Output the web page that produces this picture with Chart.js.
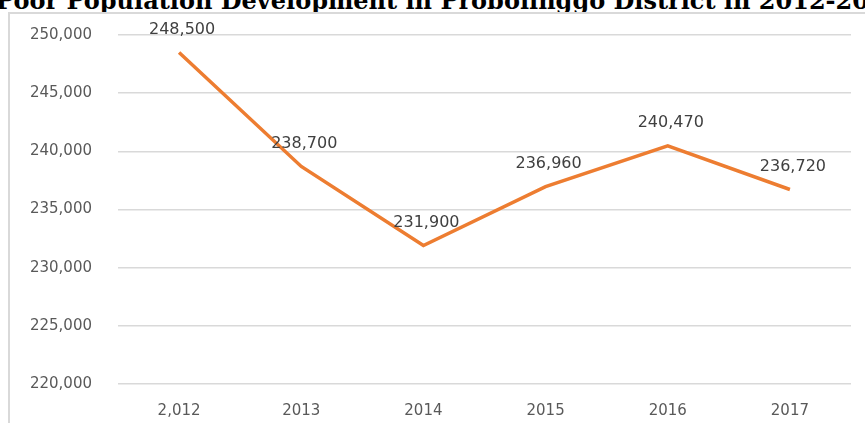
<!DOCTYPE html>
<html>
<head>
<meta charset="utf-8">
<script src="https://cdn.jsdelivr.net/npm/chart.js@4"></script>
<style>
  html, body { margin: 0; padding: 0; background: #fff; overflow: hidden; }
  #wrap { position: relative; width: 865px; height: 423px; overflow: hidden; }
  #title {
    position: absolute; left: -4px; top: -11px; white-space: nowrap;
    font: bold 24px "DejaVu Serif", serif; line-height: 1; color: #000;
  }
  #frame {
    position: absolute; left: 8px; top: 12px; width: 900px; height: 440px;
    border-left: 2px solid #d9d9d9; border-top: 2px solid #d9d9d9;
  }
  canvas { position: absolute; left: 0; top: 0; }
</style>
</head>
<body>
<div id="wrap">
  <div id="title">Poor Population Development in Probolinggo District in 2012-2017</div>
  <div id="frame"></div>
  <canvas id="myChart" width="865" height="423"></canvas>
</div>
<script>
'use strict';

let years = ['2,012', '2013', '2014', '2015', '2016', '2017'];
let poorPeople = [248500, 238700, 231900, 236960, 240470, 236720];
let yMin = 220000;
let yMax = 250000;
let yStep = 5000;

// writes the value above each point of the line
let valueLabels = {
    id: 'valueLabels',
    afterDatasetsDraw(chart) {
        let ctx = chart.ctx;
        let meta = chart.getDatasetMeta(0);
        ctx.save();
        ctx.font = '16px "DejaVu Sans", sans-serif';
        ctx.fillStyle = '#404040';
        ctx.textAlign = 'center';
        ctx.textBaseline = 'middle';
        meta.data.forEach(function (pt, i) {
            ctx.fillText(poorPeople[i].toLocaleString('en-US'), pt.x + 3, pt.y - 23);
        });
        ctx.restore();
    }
};

let ctx = document.getElementById('myChart').getContext('2d');
let chart = new Chart(ctx, {
    type: 'line',
    data: {
        labels: years,
        datasets: [{
            label: 'Poor population',
            data: poorPeople,
            borderColor: '#ed7d31',
            backgroundColor: '#ed7d31',
            borderWidth: 3.5,
            pointRadius: 0,
            tension: 0
        }]
    },
    options: {
        responsive: false,
        animation: false,
        layout: { padding: { top: 34, right: 14, left: 0, bottom: 0 } },
        plugins: {
            legend: { display: false },
            tooltip: { enabled: false }
        },
        scales: {
            x: {
                offset: true,
                grid: { display: false },
                border: { display: false },
                ticks: {
                    color: '#595959',
                    font: { family: '"DejaVu Sans", sans-serif', size: 15 },
                    padding: 10,
                    maxRotation: 0
                },
                afterFit(scale) { scale.height = 39; }
            },
            y: {
                min: yMin,
                max: yMax,
                grid: { color: '#d9d9d9', lineWidth: 1.5, drawTicks: false },
                border: { display: false },
                ticks: {
                    stepSize: yStep,
                    color: '#595959',
                    font: { family: '"DejaVu Sans", sans-serif', size: 15 },
                    padding: 26,
                    callback: function (v) { return v.toLocaleString('en-US'); }
                },
                afterFit(scale) { scale.width = 118; }
            }
        }
    },
    plugins: [valueLabels]
});
</script>
</body>
</html>
